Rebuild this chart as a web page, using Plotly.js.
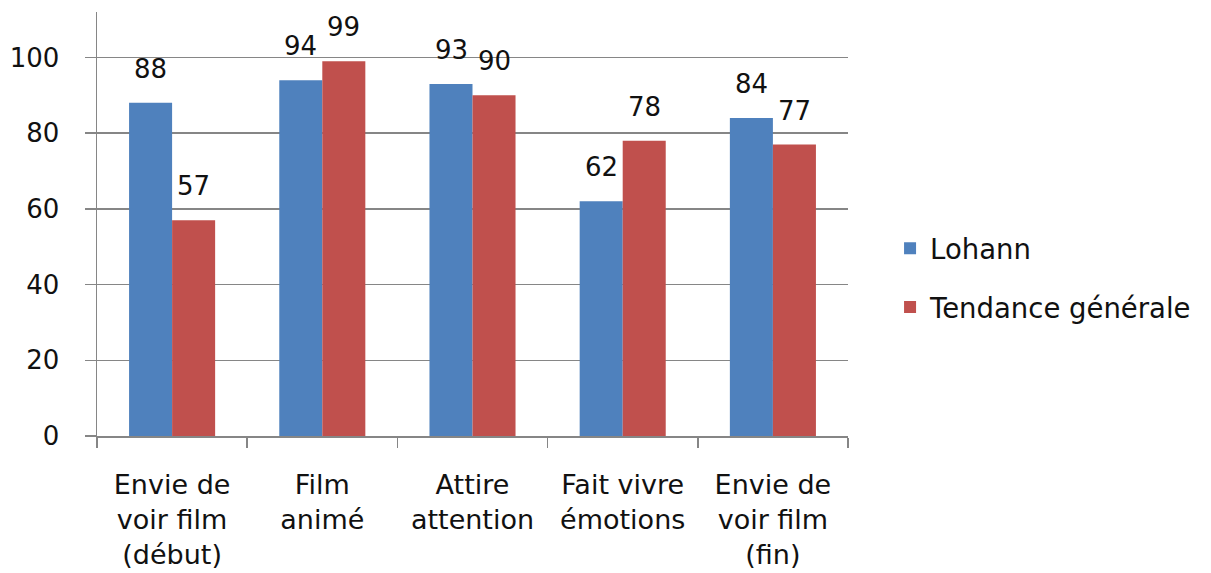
<!DOCTYPE html>
<html>
<head>
<meta charset="utf-8">
<script src="https://cdn.plot.ly/plotly-3.0.1.min.js"></script>
<style>html,body{margin:0;padding:0;background:#fff;}#chart{width:1211px;height:573px;}</style>
</head>
<body>
<div id="chart"></div>
<script>
const categories = ["Envie de<br>voir film<br>(début)", "Film<br>animé", "Attire<br>attention", "Fait vivre<br>émotions", "Envie de<br>voir film<br>(fin)"];
const lohann = [88, 94, 93, 62, 84];
const tendance = [57, 99, 90, 78, 77];
const seriesNames = ["Lohann", "Tendance générale"];
const yTicks = [0, 20, 40, 60, 80, 100];

const FONT = "DejaVu Sans, sans-serif";
const GRID = "#868686";
const colors = ["#4F81BD", "#C0504D"];
const series = [lohann, tendance];

const traces = series.map((vals, i) => ({
  type: "bar",
  x: categories,
  y: vals,
  name: seriesNames[i],
  legendgroup: "g" + i,
  marker: {color: colors[i], line: {width: 0}},
  hoverinfo: "x+y"
}));

const annotations = [];
series.forEach((vals, i) => {
  vals.forEach((v, j) => {
    annotations.push({
      x: categories[j], y: v, xref: "x", yref: "y",
      text: String(v), showarrow: false,
      xshift: i === 0 ? -21.5 : 21.5, yshift: 17, yanchor: "bottom",
      font: {family: FONT, size: 26, color: "#111"}
    });
  });
});

const layout = {
  width: 1211, height: 573,
  margin: {l: 97, r: 363, t: 12, b: 137, pad: 0},
  paper_bgcolor: "#fff", plot_bgcolor: "#fff",
  barmode: "group", bargap: 0.427, bargroupgap: 0,
  font: {family: FONT, size: 26, color: "#111"},
  xaxis: {
    type: "category",
    showline: true, linecolor: GRID, linewidth: 1.5,
    ticks: "outside", tickson: "boundaries", ticklen: 10, tickcolor: GRID, tickwidth: 1.5,
    showgrid: false, ticklabelstandoff: 24,
    tickfont: {family: FONT, size: 27, color: "#111"}
  },
  yaxis: {
    range: [0, 112], tickvals: yTicks, ticktext: yTicks.map(String),
    showline: true, linecolor: GRID, linewidth: 1.5,
    ticks: "outside", ticklen: 11, tickcolor: GRID, tickwidth: 1.5,
    showgrid: true, gridcolor: GRID, gridwidth: 1.5, zeroline: false,
    ticklabelstandoff: 20,
    tickfont: {family: FONT, size: 26, color: "#111"}
  },
  legend: {
    x: 1.056, y: 0.373, xanchor: "left", yanchor: "middle",
    traceorder: "grouped", tracegroupgap: 20,
    font: {family: FONT, size: 27.5, color: "#111"},
    bgcolor: "rgba(0,0,0,0)"
  },
  annotations: annotations,
  showlegend: true
};

Plotly.newPlot("chart", traces, layout, {displayModeBar: false, staticPlot: true});
</script>
</body>
</html>
